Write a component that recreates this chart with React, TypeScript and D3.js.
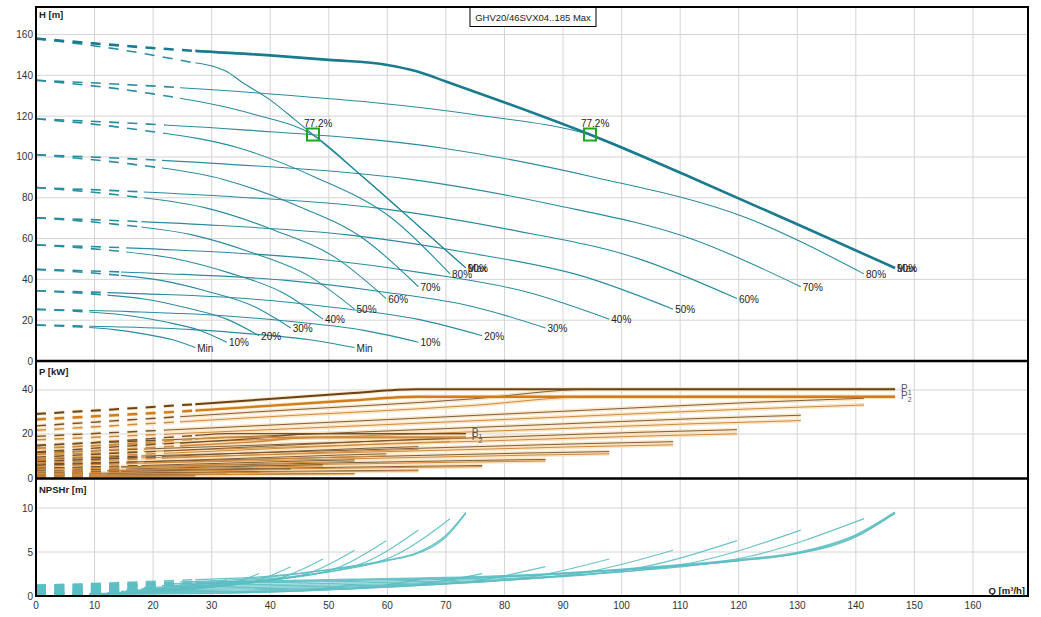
import React from "react";
import * as d3 from "d3";

const speedLabels = ["Min", "10%", "20%", "30%", "40%", "50%", "60%", "70%", "80%", "90%", "Max"];
const dashEnd = [9.1, 9.1, 12.2, 14.5, 15.4, 18, 18.4, 21.5, 22, 24.6, 27.2];

// Head curves: one pump running
const qOne: number[][] = [
  [0, 6.67, 13.33, 18.33, 23.33, 27.2],
  [0, 8, 16, 22, 28, 32.6],
  [0, 9.33, 18.67, 25.67, 32.67, 38.1],
  [0, 10.67, 21.33, 29.33, 37.33, 43.5],
  [0, 12, 24, 33, 42, 49],
  [0, 13.33, 26.67, 36.67, 46.67, 54.4],
  [0, 14.67, 29.33, 40.33, 51.33, 59.8],
  [0, 16, 32, 44, 56, 65.3],
  [0, 17.33, 34.67, 47.67, 60.67, 70.7],
  [0, 18.67, 37.33, 47.3, 55.8, 65, 73.4],
  [0, 13.5, 26, 30.3, 32.5, 35, 40.2, 44.2, 47.5, 55.8, 65, 73.4],
];
// Head curves: two pumps running
const qTwo: number[][] = [
  [0, 13.3, 26.7, 36.7, 46.7, 54.4],
  [0, 16, 32, 44, 56, 65.3],
  [0, 18.7, 37.3, 51.3, 65.3, 76.2],
  [0, 21.3, 42.7, 58.7, 74.7, 87],
  [0, 24, 48, 66, 84, 97.9],
  [0, 26.7, 53.3, 73.3, 93.3, 108.8],
  [0, 29.3, 58.7, 80.7, 102.7, 119.7],
  [0, 32, 64, 88, 112, 130.6],
  [0, 34.7, 69.3, 95.3, 121.3, 141.4],
  [0, 37.3, 74.7, 94.6, 111.6, 130, 146.7],
  [0, 27, 40, 50, 60, 65, 70, 80.4, 95, 111.6, 130, 146.7],
];
const headShared: number[][] = [
  [17.6, 16.8, 15.4, 13.3, 10.4, 6.6],
  [25.3, 24.2, 22.2, 19.2, 15.0, 9.2],
  [34.4, 32.9, 30.3, 26.1, 20.4, 12.4],
  [44.9, 42.9, 39.5, 34.1, 26.6, 16.2],
  [56.9, 54.4, 50.0, 43.2, 33.7, 20.5],
  [70.2, 67.1, 61.8, 53.3, 41.6, 25.4],
  [85.0, 81.2, 74.8, 64.5, 50.3, 30.6],
  [101.1, 96.6, 89.0, 76.8, 59.8, 36.4],
  [118.7, 113.4, 104.4, 90.1, 70.2, 42.7],
  [137.6, 131.5, 120.8, 110.8, 90.3, 67, 45.6],
];
const headMaxOne = [158, 153, 146.7, 144.4, 142, 137, 127.5, 118.3, 110.5, 90.3, 67, 45.6];
const headMaxTwo = [158, 152, 149.8, 147.6, 145.1, 142, 137, 126.3, 110.5, 90.3, 67, 45.6];
const headOne: number[][] = [...headShared, headMaxOne];
const headTwo: number[][] = [...headShared, headMaxTwo];

// Power curves
const qPowOne: number[][] = [
  ...qOne.slice(0, 9),
  [0, 18.67, 37.33, 47.3, 73.4],
  [0, 13.5, 26.8, 32.5, 73.4],
];
const qPowTwo: number[][] = [
  ...qTwo.slice(0, 9),
  [0, 37.3, 74.7, 94.6, 146.7],
  [0, 27, 53.6, 65, 146.7],
];
const p1One: number[][] = [
  [0.54, 0.67, 0.79, 0.88, 0.98, 1.03],
  [0.93, 1.15, 1.37, 1.53, 1.69, 1.78],
  [1.48, 1.83, 2.17, 2.42, 2.67, 2.83],
  [2.21, 2.73, 3.23, 3.61, 3.99, 4.23],
  [3.15, 3.88, 4.6, 5.14, 5.68, 6.02],
  [4.31, 5.32, 6.31, 7.05, 7.8, 8.25],
  [5.74, 7.08, 8.4, 9.39, 10.38, 10.99],
  [7.45, 9.19, 10.91, 12.19, 13.47, 14.26],
  [9.47, 11.69, 13.87, 15.5, 17.12, 18.13],
  [11.85, 15.0, 18.0, 20.15, 20.15],
  [14.55, 16.75, 19.25, 20.15, 20.15],
];
const p2One: number[][] = [
  [0.5, 0.61, 0.73, 0.81, 0.89, 0.94],
  [0.85, 1.05, 1.25, 1.4, 1.54, 1.63],
  [1.36, 1.67, 1.98, 2.22, 2.45, 2.59],
  [2.02, 2.5, 2.96, 3.31, 3.65, 3.87],
  [2.88, 3.55, 4.21, 4.71, 5.2, 5.51],
  [3.95, 4.87, 5.78, 6.45, 7.13, 7.55],
  [5.25, 6.48, 7.69, 8.59, 9.5, 10.05],
  [6.82, 8.41, 9.98, 11.15, 12.32, 13.05],
  [8.67, 10.69, 12.69, 14.18, 15.67, 16.59],
  [10.85, 13.75, 16.5, 18.45, 18.45],
  [13.3, 15.3, 17.6, 18.45, 18.45],
];
const p1Two: number[][] = [
  [1.08, 1.33, 1.58, 1.76, 1.95, 2.06],
  [1.86, 2.3, 2.73, 3.05, 3.37, 3.56],
  [2.96, 3.65, 4.33, 4.84, 5.34, 5.66],
  [4.41, 5.45, 6.46, 7.22, 7.98, 8.45],
  [6.29, 7.75, 9.2, 10.28, 11.36, 12.03],
  [8.62, 10.64, 12.62, 14.1, 15.59, 16.5],
  [11.48, 14.16, 16.8, 18.77, 20.75, 21.97],
  [14.9, 18.38, 21.81, 24.37, 26.93, 28.52],
  [18.94, 23.37, 27.73, 30.99, 34.24, 36.26],
  [23.7, 30.0, 36.0, 40.3, 40.3],
  [29.1, 33.5, 38.5, 40.3, 40.3],
];
const p2Two: number[][] = [
  [0.99, 1.22, 1.45, 1.61, 1.78, 1.88],
  [1.7, 2.1, 2.5, 2.79, 3.08, 3.26],
  [2.71, 3.34, 3.96, 4.43, 4.89, 5.18],
  [4.04, 4.99, 5.91, 6.61, 7.3, 7.73],
  [5.76, 7.09, 8.42, 9.41, 10.39, 11.01],
  [7.89, 9.74, 11.55, 12.9, 14.26, 15.1],
  [10.5, 12.96, 15.37, 17.17, 18.99, 20.1],
  [13.63, 16.82, 19.96, 22.3, 24.64, 26.1],
  [17.33, 21.38, 25.37, 28.36, 31.33, 33.18],
  [21.7, 27.5, 33.0, 36.9, 36.9],
  [26.6, 30.6, 35.2, 36.9, 36.9],
];

// NPSHr curves
const qNpshOne: number[][] = [
  ...qOne.slice(0, 9),
  [0, 18.67, 37.33, 47.3, 60, 65, 70, 73.4],
  [0, 13.5, 27, 40, 50, 60, 65, 70, 73.4],
];
const qNpshTwo: number[][] = [
  ...qTwo.slice(0, 9),
  [0, 37.3, 74.7, 94.6, 120, 130, 140, 146.7],
  [0, 27, 54, 80, 100, 120, 130, 140, 146.7],
];
const npshM: number[][] = [
  [0.13, 0.19, 0.26, 0.38, 0.66, 1.3],
  [0.19, 0.27, 0.37, 0.54, 0.94, 1.87],
  [0.26, 0.37, 0.5, 0.74, 1.29, 2.55],
  [0.34, 0.48, 0.65, 0.97, 1.68, 3.33],
  [0.43, 0.61, 0.83, 1.22, 2.12, 4.21],
  [0.53, 0.76, 1.02, 1.51, 2.62, 5.2],
  [0.65, 0.91, 1.24, 1.83, 3.17, 6.29],
  [0.77, 1.09, 1.47, 2.18, 3.78, 7.49],
  [0.9, 1.28, 1.73, 2.55, 4.43, 8.79],
  [1.05, 1.48, 2.0, 2.75, 4.0, 4.8, 6.7, 9.4],
  [1.2, 1.5, 1.85, 2.25, 3.0, 4.1, 4.9, 6.9, 9.5],
];

const dutyQ = [47.3, 94.6];
const dutyH = [111, 111];
const dutyLabel = ["77.2%", "77.2%"];

const xTickValues = [0, 10, 20, 30, 40, 50, 60, 70, 80, 90, 100, 110, 120, 130, 140, 150, 160];
const hTickValues = [0, 20, 40, 60, 80, 100, 120, 140, 160];
const pTickValues = [0, 20, 40];
const nTickValues = [0, 5, 10];
const titleText = "GHV20/46SVX04..185 Max";

const x = d3.scaleLinear().domain([0, 169.4]).range([36, 1028]);
const yH = d3.scaleLinear().domain([0, 173.5]).range([361, 7]);
const yP = d3.scaleLinear().domain([0, 53.18]).range([478, 361]);
const yN = d3.scaleLinear().domain([0, 13.3]).range([596, 479]);

const FONT = "'Liberation Sans', Arial, Helvetica, sans-serif";

function mkPath(xs: number[], ys: number[], ysc: d3.ScaleLinear<number, number>) {
  return (
    d3
      .line<number>()
      .x((i) => x(xs[i]))
      .y((i) => ysc(ys[i]))
      .curve(d3.curveMonotoneX)(d3.range(xs.length)) || ""
  );
}

function split(key: string, d: string, k: number, stroke: string, width: number, dashWidth: number, opacity = 1) {
  return (
    <g key={key} opacity={opacity}>
      <path d={d} fill="none" stroke={stroke} strokeWidth={dashWidth} strokeDasharray="10 8.3" clipPath={`url(#dash${k})`} />
      <path d={d} fill="none" stroke={stroke} strokeWidth={width} clipPath={`url(#solid${k})`} strokeLinejoin="round" />
    </g>
  );
}

export default function App() {
  const ks = d3.range(11);
  const thin = "#2a8ca0";
  const thick = "#1a7b90";
  const npshCol = "#5bbec3";
  const p1Col = "#6e5030";
  const p2Col = "#cf8a3c";
  const halo = "#fbe0b8";

  const hCurves: JSX.Element[] = [];
  const hLabels: JSX.Element[] = [];
  ks.forEach((k) => {
    [
      { q: qOne[k], h: headOne[k], tag: "o" },
      { q: qTwo[k], h: headTwo[k], tag: "t" },
    ].forEach(({ q, h, tag }) => {
      const isThick = tag === "t" && k === 10;
      hCurves.push(
        split(`h${tag}${k}`, mkPath(q, h, yH), k, isThick ? thick : thin, isThick ? 2.6 : 1.1, isThick ? 2.6 : 1.6)
      );
      const qe = q[q.length - 1];
      const he = h[h.length - 1];
      hLabels.push(
        <text key={`hl${tag}${k}`} x={x(qe) + 2} y={yH(he) + 4} fontSize={10} fill="#222">
          {speedLabels[k]}
        </text>
      );
    });
  });

  const pHalos: JSX.Element[] = [];
  const pLines: JSX.Element[] = [];
  ks.forEach((k) => {
    const sets = [
      { q: qPowOne[k], p: p1One[k], col: p1Col, tag: "o1", w: k >= 9 ? 1.4 : 0.9 },
      { q: qPowOne[k], p: p2One[k], col: p2Col, tag: "o2", w: k >= 9 ? 1.6 : 1.0 },
      { q: qPowTwo[k], p: p1Two[k], col: k === 10 ? "#6b4216" : p1Col, tag: "t1", w: k === 10 ? 2.0 : 0.9 },
      { q: qPowTwo[k], p: p2Two[k], col: k === 10 ? "#d27d1c" : p2Col, tag: "t2", w: k === 10 ? 2.4 : 1.0 },
    ];
    sets.forEach(({ q, p, col, tag, w }) => {
      const d = mkPath(q, p, yP);
      pHalos.push(split(`ph${tag}${k}`, d, k, halo, 4, 4, 0.8));
      pLines.push(split(`pl${tag}${k}`, d, k, col, w, Math.max(w, 1.4)));
    });
  });

  const nCurves: JSX.Element[] = [];
  ks.forEach((k) => {
    nCurves.push(split(`no${k}`, mkPath(qNpshOne[k], npshM[k], yN), k, npshCol, 1.2, 1.6, 0.9));
    const isThick = k === 10;
    nCurves.push(
      split(`nt${k}`, mkPath(qNpshTwo[k], npshM[k], yN), k, npshCol, isThick ? 2.4 : 1.2, isThick ? 2.4 : 1.6, 0.9)
    );
  });

  const pLabel = (key: string, q: number, p: number, sub: string) => (
    <text key={key} x={x(q) + 6} y={yP(p) + 2.5} fontSize={10} fill="#555">
      P
      <tspan fontSize={7} dy={3}>
        {sub}
      </tspan>
    </text>
  );

  return (
    <svg
      width={1041}
      height={617}
      style={{ position: "absolute", left: 0, top: 0, background: "#fff" }}
      fontFamily={FONT}
    >
      <defs>
        {ks.map((k) => (
          <clipPath key={`cd${k}`} id={`dash${k}`}>
            <rect x={0} y={0} width={x(dashEnd[k])} height={617} />
          </clipPath>
        ))}
        {ks.map((k) => (
          <clipPath key={`cs${k}`} id={`solid${k}`}>
            <rect x={x(dashEnd[k])} y={0} width={1041 - x(dashEnd[k])} height={617} />
          </clipPath>
        ))}
        <clipPath id="clipH">
          <rect x={36} y={7} width={992} height={354} />
        </clipPath>
        <clipPath id="clipP">
          <rect x={36} y={361} width={992} height={117.5} />
        </clipPath>
        <clipPath id="clipN">
          <rect x={36} y={479} width={992} height={117} />
        </clipPath>
      </defs>
      <rect x={0} y={0} width={1041} height={617} fill="#fff" />

      {/* grid */}
      <g stroke="#d4d4d4" strokeWidth={1}>
        {xTickValues.slice(1).map((v) => (
          <line key={`gx${v}`} x1={x(v)} x2={x(v)} y1={7} y2={596} />
        ))}
        {hTickValues.slice(1).map((v) => (
          <line key={`gh${v}`} x1={36} x2={1028} y1={yH(v)} y2={yH(v)} />
        ))}
        {pTickValues.slice(1).map((v) => (
          <line key={`gp${v}`} x1={36} x2={1028} y1={yP(v)} y2={yP(v)} />
        ))}
        {nTickValues.slice(1).map((v) => (
          <line key={`gn${v}`} x1={36} x2={1028} y1={yN(v)} y2={yN(v)} />
        ))}
      </g>

      {/* title */}
      <rect x={470} y={7.5} width={126} height={19} fill="#fff" stroke="#000" strokeWidth={1} />
      <text x={533} y={21} fontSize={9.5} textAnchor="middle" fill="#222">
        {titleText}
      </text>

      {/* head panel */}
      <g clipPath="url(#clipH)">{hCurves}</g>
      {hLabels}
      {dutyQ.map((q, i) => (
        <g key={`duty${i}`}>
          <rect x={x(q) - 6} y={yH(dutyH[i]) - 6} width={12} height={12} fill="none" stroke="#1fa51f" strokeWidth={2} />
          <text x={x(q) - 9} y={yH(dutyH[i]) - 7.5} fontSize={10} fill="#222">
            {dutyLabel[i]}
          </text>
        </g>
      ))}

      {/* power panel */}
      <g clipPath="url(#clipP)">
        {pHalos}
        {pLines}
      </g>
      {pLabel("pl1a", qPowTwo[10][4], p1Two[10][4], "1")}
      {pLabel("pl2a", qPowTwo[10][4], p2Two[10][4], "2")}
      {pLabel("pl1b", qPowOne[10][4], p1One[10][4], "1")}
      {pLabel("pl2b", qPowOne[10][4], p2One[10][4], "2")}

      {/* npsh panel */}
      <g clipPath="url(#clipN)">{nCurves}</g>

      {/* frame */}
      <g stroke="#000" fill="none">
        <rect x={36} y={7} width={992} height={589} strokeWidth={2} />
        <line x1={36} x2={1028} y1={361} y2={361} strokeWidth={2.5} />
        <line x1={36} x2={1028} y1={478.5} y2={478.5} strokeWidth={2.5} />
      </g>

      {/* tick labels */}
      <g fontSize={10} fill="#333">
        {hTickValues.map((v) => (
          <text key={`th${v}`} x={33} y={yH(v) + 3.5} textAnchor="end">
            {v}
          </text>
        ))}
        {pTickValues.map((v) => (
          <text key={`tp${v}`} x={33} y={yP(v) + 3.5} textAnchor="end">
            {v}
          </text>
        ))}
        {nTickValues.map((v) => (
          <text key={`tn${v}`} x={33} y={yN(v) + 3.5} textAnchor="end">
            {v}
          </text>
        ))}
        {xTickValues.map((v) => (
          <text key={`tx${v}`} x={x(v)} y={609} textAnchor="middle">
            {v}
          </text>
        ))}
      </g>

      {/* axis titles */}
      <g fontSize={9.5} fontWeight="bold" fill="#222">
        <text x={39} y={18}>H [m]</text>
        <text x={39} y={375}>P [kW]</text>
        <text x={39} y={493}>NPSHr [m]</text>
        <text x={1025} y={594} textAnchor="end">
          Q [m³/h]
        </text>
      </g>
    </svg>
  );
}
